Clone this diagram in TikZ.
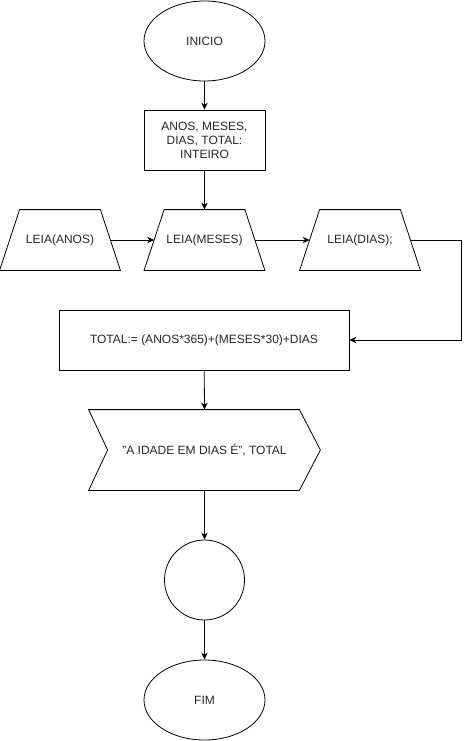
\documentclass[tikz,border=0pt]{standalone}
\usepackage{fontspec}
\setmainfont{Liberation Sans}
\usetikzlibrary{shapes.geometric,arrows.meta,calc}
\begin{document}
\begin{tikzpicture}[x=1pt,y=-1pt,
  base/.style={draw=black, line width=0.8pt, font=\fontsize{12}{14}\selectfont, text=black!85, inner sep=0pt, align=center},
  term/.style={base, ellipse, minimum width=121pt, minimum height=80pt},
  proc/.style={base, rectangle, minimum width=121pt, minimum height=60pt},
  io/.style={base, draw=none, rectangle, minimum width=120pt, minimum height=60pt},
  outline/.style={line width=0.8pt},
  arr/.style={-{Stealth[length=7pt,width=6.5pt]}, line width=0.8pt}]
\useasboundingbox (0,0) rectangle (469,741);
\node[term] (ini) at (204.5,41) {INICIO};
\node[proc] (decl) at (204.5,140) {ANOS, MESES,\\DIAS, TOTAL:\\INTEIRO};
\node[io] (anos) at (60,240) {LEIA(ANOS)};
\node[io] (meses) at (204.5,240) {LEIA(MESES)};
\node[io] (dias) at (360,240) {LEIA(DIAS);};
\foreach \n in {anos,meses,dias}
  \draw[outline] (\n.south west) -- (\n.south east) -- ($(\n.north east)+(-20,0)$) -- ($(\n.north west)+(20,0)$) -- cycle;
\node[proc, minimum width=290pt] (total) at (204,340) {TOTAL:= (ANOS*365)+(MESES*30)+DIAS};
\node[base, draw=none, minimum width=231pt, minimum height=80pt] (out) at (204.5,450) {\symbol{34}A IDADE EM DIAS É\symbol{34}, TOTAL};
\draw[outline] (out.north west) -- ($(out.north east)+(-21,0)$) -- (out.east) -- ($(out.south east)+(-21,0)$) -- (out.south west) -- ($(out.west)+(19,0)$) -- cycle;
\node[base, circle, minimum size=80pt] (c) at (204.5,580) {};
\node[term] (fim) at (204.5,700) {FIM};
\coordinate (turn) at (461,240);
\draw[arr] (ini) -- (decl);
\draw[arr] (decl) -- (meses.north);
\draw[arr] ($(anos.east)+(-10,0)$) -- ($(meses.west)+(10,0)$);
\draw[arr] ($(meses.east)+(-10,0)$) -- ($(dias.west)+(10,0)$);
\draw[arr] ($(dias.east)+(-10,0)$) -- (turn) |- (total.east);
\draw[arr] (total) -- (out.north);
\draw[arr] (out.south) -- (c);
\draw[arr] (c) -- (fim);
\end{tikzpicture}
\end{document}
